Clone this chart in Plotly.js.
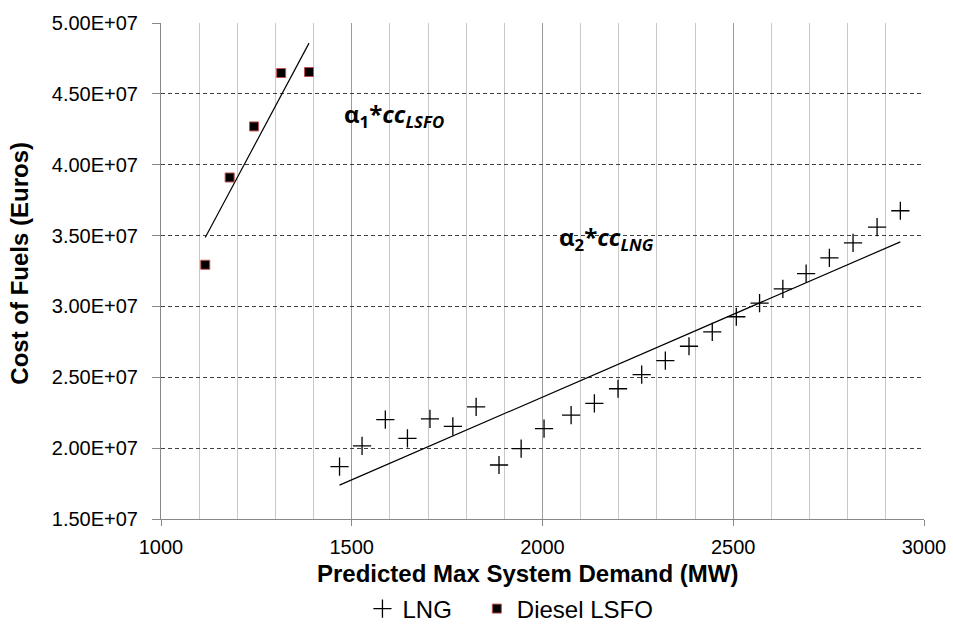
<!DOCTYPE html>
<html>
<head>
<meta charset="utf-8">
<script src="https://cdn.plot.ly/plotly-3.0.1.min.js"></script>
<style>html,body{margin:0;padding:0;background:#fff;}#chart{width:953px;height:624px;}</style>
</head>
<body>
<div id="chart"></div>
<script>
// LNG series (Predicted Max System Demand, MW  vs  Cost of Fuels, Euros)
var lngX = [1468, 1527, 1588, 1646, 1705, 1765, 1826, 1886, 1944, 2004, 2075, 2136, 2198, 2260, 2322, 2384, 2445, 2508, 2569, 2630, 2691, 2752, 2814, 2877, 2938];
var lngY = [1.869e7, 2.016e7, 2.201e7, 2.069e7, 2.206e7, 2.154e7, 2.291e7, 1.881e7, 1.996e7, 2.138e7, 2.233e7, 2.316e7, 2.419e7, 2.519e7, 2.618e7, 2.719e7, 2.821e7, 2.927e7, 3.023e7, 3.124e7, 3.232e7, 3.343e7, 3.449e7, 3.559e7, 3.675e7];
// Diesel LSFO series
var lsfoX = [1116, 1180, 1244, 1315, 1388];
var lsfoY = [3.294e7, 3.910e7, 4.270e7, 4.647e7, 4.654e7];
// Series names
var seriesNames = ["LNG", "Diesel LSFO"];
// Axis ticks
var yTickVals = [1.5e7, 2.0e7, 2.5e7, 3.0e7, 3.5e7, 4.0e7, 4.5e7, 5.0e7];
var yTickText = ["1.50E+07", "2.00E+07", "2.50E+07", "3.00E+07", "3.50E+07", "4.00E+07", "4.50E+07", "5.00E+07"];
var xTickVals = [1000, 1500, 2000, 2500, 3000];

// least-squares linear trendline computed from a series
function trend(xs, ys) {
  var n = xs.length, mx = 0, my = 0;
  for (var i = 0; i < n; i++) { mx += xs[i]; my += ys[i]; }
  mx /= n; my /= n;
  var sxy = 0, sxx = 0;
  for (var j = 0; j < n; j++) { sxy += (xs[j]-mx)*(ys[j]-my); sxx += (xs[j]-mx)*(xs[j]-mx); }
  var b = sxy / sxx, a = my - b*mx;
  var x0 = Math.min.apply(null, xs), x1 = Math.max.apply(null, xs);
  return {x: [x0, x1], y: [a + b*x0, a + b*x1]};
}
var tLng = trend(lngX, lngY);
var tLsfo = trend(lsfoX, lsfoY);

var FONT = 'Liberation Sans, Arial, sans-serif';
var NBSP = '\u00a0\u00a0\u00a0';

var traces = [
  {x: tLng.x, y: tLng.y, mode: 'lines', line: {color: '#000', width: 1.2}, showlegend: false, hoverinfo: 'skip'},
  {x: tLsfo.x, y: tLsfo.y, mode: 'lines', line: {color: '#000', width: 1.2}, showlegend: false, hoverinfo: 'skip'},
  {x: lngX, y: lngY, mode: 'markers', name: seriesNames[0] + NBSP,
   marker: {symbol: 'cross-thin-open', size: 13, color: '#000', line: {color: '#000', width: 1.3}}},
  {x: lsfoX, y: lsfoY, mode: 'markers', name: seriesNames[1],
   marker: {symbol: 'square', size: 9, color: '#000', line: {color: '#c0504d', width: 1}}}
];

var layout = {
  width: 953, height: 624,
  margin: {l: 161, r: 29, t: 23, b: 105},
  paper_bgcolor: '#fff', plot_bgcolor: '#fff',
  font: {family: FONT, size: 20, color: '#000'},
  showlegend: true,
  legend: {orientation: 'h', x: 0.458, xanchor: 'center', yref: 'container', y: 0.024, yanchor: 'middle',
           font: {family: FONT, size: 24, color: '#000'}, bgcolor: 'rgba(0,0,0,0)', traceorder: 'normal'},
  xaxis: {
    range: [1000, 3000], tickvals: xTickVals, ticks: 'outside', ticklen: 6, tickcolor: '#888',
    showline: true, linecolor: '#888', linewidth: 1, zeroline: false,
    showgrid: true, gridcolor: '#9a9a9a', gridwidth: 1,
    minor: {dtick: 100, showgrid: true, gridcolor: '#c8c8c8', gridwidth: 1, ticks: ''},
    tickfont: {family: FONT, size: 20, color: '#000'}, ticklabelstandoff: 4,
    automargin: false
  },
  yaxis: {
    range: [1.5e7, 5.0e7], tickvals: yTickVals, ticktext: yTickText, ticks: 'outside', ticklen: 8, tickcolor: '#888',
    showline: true, linecolor: '#888', linewidth: 1, zeroline: false,
    showgrid: true, gridcolor: '#404040', gridwidth: 1, griddash: '4px,3px',
    tickfont: {family: FONT, size: 20, color: '#000'}, ticklabelstandoff: 10,
    automargin: false
  },
  annotations: [
    {x: 0.4797, y: -0.1089, xref: 'paper', yref: 'paper', xanchor: 'center', yanchor: 'middle', showarrow: false,
     text: '<b>Predicted Max System Demand (MW)</b>', font: {family: FONT, size: 24, color: '#000'}},
    {x: -0.186, y: 0.515, xref: 'paper', yref: 'paper', xanchor: 'center', yanchor: 'middle', showarrow: false, textangle: -90,
     text: '<b>Cost of Fuels (Euros)</b>', font: {family: FONT, size: 24, color: '#000'}},
    {x: 1474, y: 4.35e7, xref: 'x', yref: 'y', xanchor: 'left', yanchor: 'middle', showarrow: false,
     text: '<b>α<sub>1</sub>*<i>cc<sub>LSFO</sub></i></b>', font: {family: 'Open Sans, sans-serif', size: 24, color: '#000'}},
    {x: 2038, y: 3.48e7, xref: 'x', yref: 'y', xanchor: 'left', yanchor: 'middle', showarrow: false,
     text: '<b>α<sub>2</sub>*<i>cc<sub>LNG</sub></i></b>', font: {family: 'Open Sans, sans-serif', size: 24, color: '#000'}}
  ]
};

Plotly.newPlot('chart', traces, layout, {staticPlot: true, displayModeBar: false});
</script>
</body>
</html>
